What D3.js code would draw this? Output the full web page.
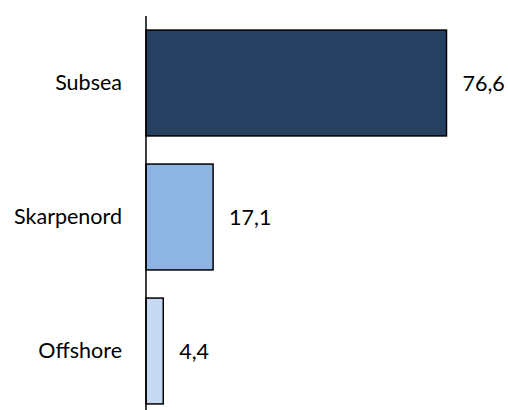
<!DOCTYPE html>
<html>
<head>
<meta charset="utf-8">
<script src="https://cdn.jsdelivr.net/npm/d3@7/dist/d3.min.js"></script>
<style>
  html, body { margin: 0; padding: 0; background: #fff; }
  svg { display: block; }
  text { font-family: Lato, "Open Sans", sans-serif; fill: #000; }
</style>
</head>
<body>
<svg id="chart" width="508" height="410"></svg>
<script>
// Segment names and their values (share, %)
const categories = ["Subsea", "Skarpenord", "Offshore"];
const values = [76.6, 17.1, 4.4];
const colors = ["#264061", "#8EB4E3", "#C6D9F1"];

const width = 508, height = 410;
const margin = { top: 16, right: 20, bottom: -8, left: 146 };
const fontSize = 21.5;

const svg = d3.select("#chart");

const y = d3.scaleBand()
  .domain(categories)
  .range([margin.top, height - margin.bottom])
  .paddingInner(0.21)
  .paddingOuter(0.105);

const x = d3.scaleLinear()
  .domain([0, 76.6])
  .range([margin.left, 446.5]);

const fmt = v => d3.format(".1f")(v).replace(".", ",");

const data = categories.map((c, i) => ({ name: c, value: values[i], color: colors[i] }));

// bars
svg.append("g")
  .selectAll("rect")
  .data(data)
  .join("rect")
  .attr("x", x(0))
  .attr("y", d => y(d.name))
  .attr("width", d => x(d.value) - x(0))
  .attr("height", y.bandwidth())
  .attr("fill", d => d.color)
  .attr("stroke", "#000")
  .attr("stroke-width", 1.5);

// value labels
svg.append("g")
  .selectAll("text")
  .data(data)
  .join("text")
  .attr("x", d => x(d.value) + 16)
  .attr("y", d => y(d.name) + y.bandwidth() / 2)
  .attr("dy", "0.35em")
  .attr("font-size", fontSize)
  .text(d => fmt(d.value));

// category axis
const axis = svg.append("g")
  .attr("transform", `translate(${margin.left},0)`)
  .call(d3.axisLeft(y).tickSize(0).tickPadding(24));
axis.select(".domain").attr("stroke", "#000").attr("stroke-width", 1.5)
  .attr("d", `M0,${margin.top}V${height}`);
axis.selectAll("text")
  .attr("font-size", fontSize)
  .attr("font-family", "Lato, \"Open Sans\", sans-serif")
  .attr("fill", "#000");
</script>
</body>
</html>
